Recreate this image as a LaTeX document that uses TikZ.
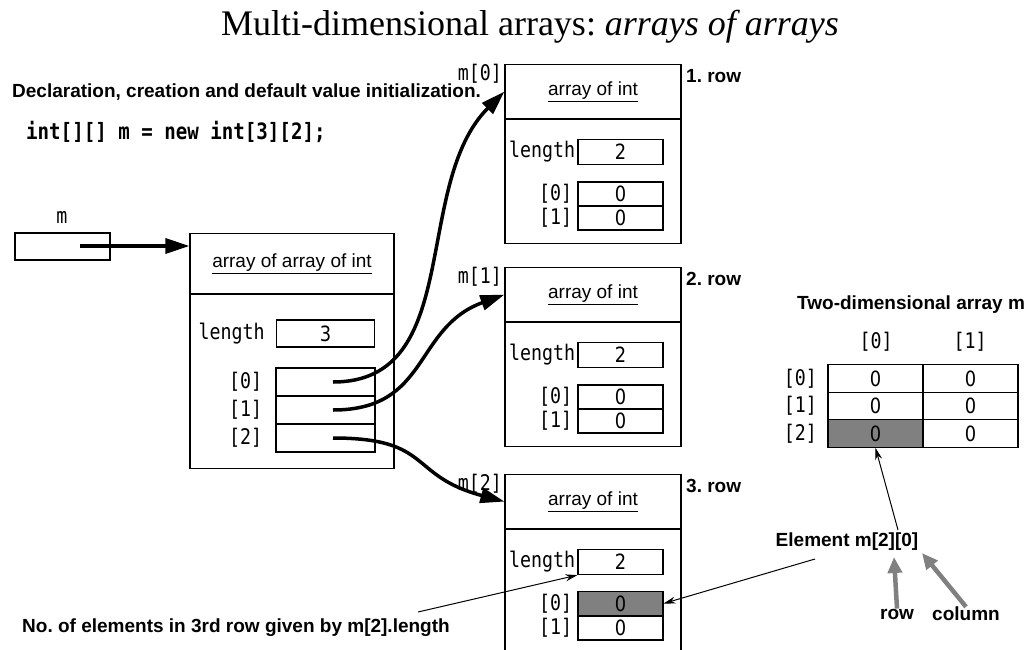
\documentclass[tikz,border=0pt]{standalone}
\usepackage{fontspec}
\setmainfont{Liberation Serif}
\setsansfont{Liberation Sans}
\newfontfamily\codefnt[FakeStretch=0.85]{DejaVu Sans Mono}
\newfontfamily\numfnt[FakeStretch=0.85]{DejaVu Sans}
\usetikzlibrary{arrows.meta,positioning,calc}
\definecolor{cellgray}{RGB}{128,128,128}
\newcommand{\fsz}[1]{\fontsize{#1pt}{#1pt}\selectfont}
\frenchspacing

\begin{document}
\begin{tikzpicture}[x=1pt, y=-1pt,
  objhdr/.style  = {draw, line width=1.2pt, inner sep=0pt, font=\fsz{19}\sffamily},
  objbody/.style = {draw, line width=1.2pt, inner sep=0pt},
  slot/.style    = {draw, line width=1.2pt, inner sep=0pt, font=\numfnt\fsz{21}},
  codetxt/.style = {inner sep=0pt, font=\codefnt\fsz{21.5}},
  note/.style    = {inner sep=0pt, font=\sffamily\bfseries\fsz{19}},
  ptr/.style     = {line width=3.5pt, -{Triangle[length=24pt,width=15pt]}},
  hint/.style    = {line width=1pt, -{Stealth[length=12pt,width=7pt]}},
  tagarr/.style  = {draw=cellgray, line width=4.5pt, -{Triangle[length=16pt,width=14pt]}},
]
\useasboundingbox (0,0) rectangle (1030,650);

% title and declaration
\node[inner sep=0pt, font=\fsz{36}] (title) at (530,27) {Multi-dimensional arrays: \textit{arrays of arrays}};
\node[note, anchor=west] (decl) at (12,92) {Declaration, creation and default value initialization.};
\node[codetxt, anchor=west, font=\codefnt\bfseries\fsz{22.5}] (code) at (26,132) {int[][] m = new int[3][2];};

% reference variable m
\node[codetxt] (mlbl) at (62,217) {m};
\node[slot, minimum width=95, minimum height=27] (mbox) at (62.5,246.5) {};
\coordinate (mptr) at (80,246);

% array of array of int
\node[objhdr, minimum width=204, minimum height=60, anchor=north] (aaihdr) at (292,233) {\underline{array of array of int}};
\node[objbody, minimum width=204, minimum height=174, below=0pt of aaihdr] (aaibody) {};
\node[slot, minimum width=98, minimum height=27] (aailen) at (325.5,333.5) {3};
\node[codetxt, anchor=east] at ([xshift=-11]aailen.west) {length};
\foreach \k/\y in {0/382,1/410,2/438} {
  \node[slot, minimum width=99, minimum height=28] (slot\k) at (325.5,\y) {};
  \node[codetxt, anchor=east] at ([xshift=-13]slot\k.west) {[\k]};
  \coordinate (src\k) at (333,\y);
}

% the three rows
\foreach \i/\t in {0/64,1/267,2/474} {
  \node[objhdr, minimum width=176, minimum height=54, anchor=north] (hdr\i) at (593,\t) {\underline{array of int}};
  \node[objbody, minimum width=176, minimum height=124, below=0pt of hdr\i] (body\i) {};
  \node[slot, minimum width=85, minimum height=25] (len\i) at (620.5,\t+88) {2};
  \node[slot, minimum width=85, minimum height=24] (el\i0) at (620.5,\t+130) {0};
  \node[slot, minimum width=85, minimum height=24] (el\i1) at (620.5,\t+154) {0};
  \node[codetxt, anchor=east] at ([xshift=-2]len\i.west) {length};
  \node[codetxt, anchor=east] at ([xshift=-5]el\i0.west) {[0]};
  \node[codetxt, anchor=east] at ([xshift=-5]el\i1.west) {[1]};
  \node[codetxt, anchor=east] at (502,\t+10) {m[\i]};
  \node[note, anchor=west] at (686,\t+12) {\the\numexpr\i+1\relax. row};
}
\node[slot, fill=cellgray, minimum width=85, minimum height=24] (el20) at (620.5,603.5) {0};

% two-dimensional view
\node[note, anchor=west] (tdtitle) at (797,305) {Two-dimensional array m};
\node[codetxt] (col0) at (876,342) {[0]};
\node[codetxt] (col1) at (970,342) {[1]};
\foreach \r/\y in {0/378.5,1/406,2/433.5} {
  \node[codetxt, anchor=east] at (817,\y) {[\r]};
  \foreach \c/\x in {0/875.5,1/970.5} {
    \ifnum\r\c=20 \def\cf{cellgray}\else\def\cf{white}\fi
    \node[slot, fill=\cf, minimum width=95, minimum height=27.5] (cell\r\c) at (\x,\y) {0};
  }
}

% annotations
\node[note] (elem) at (847,542) {Element m[2][0]};
\node[note] (rowlbl) at (897,614) {row};
\node[note] (collbl) at (966,614) {column};
\node[note, anchor=west] (nelem) at (22,628) {No. of elements in 3rd row given by m[2].length};
\coordinate (nelemtail) at (418,612);
\coordinate (elemtail) at (815,559);
\coordinate (elemtop) at (898,530);
\coordinate (rowtip) at (894,557);
\coordinate (coltip) at (922,553);

% connectors
\draw[ptr] (mptr) -- (mptr -| aaihdr.west);
\draw[ptr] (src0) to[out=0, in=225] (hdr0.west);
\draw[ptr] (src1) to[out=0, in=200, looseness=1.2] (hdr1.west);
\draw[ptr] (src2) to[out=0, in=165, looseness=1.4] (hdr2.west);
\draw[hint] (nelemtail) -- (len2.south west);
\draw[hint] (elemtail) -- (el20.east);
\draw[hint] (elemtop) -- (cell20.south);
\draw[tagarr] (rowlbl.north) -- (rowtip);
\draw[tagarr] (collbl.north) -- (coltip);
\end{tikzpicture}
\end{document}
